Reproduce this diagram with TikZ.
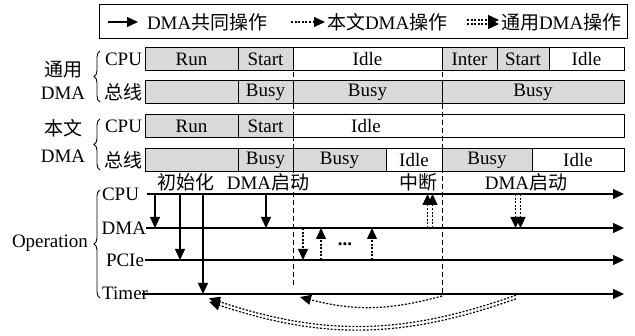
\documentclass[tikz,border=0pt]{standalone}
\usepackage{fontspec}
\setmainfont{Liberation Serif}
\newfontfamily\cjk{Noto Sans CJK SC}
\usepackage{tikz}
\usetikzlibrary{arrows.meta,positioning,decorations.pathreplacing}

\begin{document}
\begin{tikzpicture}[x=1pt,y=-1pt, >={Triangle[length=11pt,width=10pt]},
  font=\fontsize{19}{21}\selectfont,
  every node/.style={inner sep=0pt,outer sep=0pt},
  seg/.style={draw,line width=1pt,minimum height=23pt,anchor=west},
  busy/.style={seg,fill=black!15},
  free/.style={seg,fill=white},
  axis/.style={->,line width=1.2pt},
  common/.style={->,line width=1.2pt},
  own/.style={->,line width=1.2pt,dash pattern=on 2pt off 1.6pt},
  gen/.style={own},
  cut/.style={line width=1pt,dash pattern=on 5pt off 3pt},
  brace/.style={decorate,decoration={brace,amplitude=6pt},line width=0.9pt}]
  \useasboundingbox (0,0) rectangle (635,336);

  % legend
  \node[draw,line width=1pt,minimum width=528pt,minimum height=34pt,anchor=north west] (legend) at (99,5) {};
  \coordinate (k1a) at (108,22);
  \coordinate (k1b) at (138,22);
  \coordinate (k2a) at (291,22);
  \coordinate (k2b) at (325,22);
  \coordinate (k3a) at (467,22);
  \coordinate (k3b) at (499,22);
  \draw[common] (k1a) -- (k1b);
  \draw[own] (k2a) -- (k2b);
  \draw[gen,transform canvas={yshift=2pt}] (k3a) -- (k3b);
  \draw[gen,transform canvas={yshift=-2pt}] (k3a) -- (k3b);
  \node[anchor=west] (k1) at (147,22) {DMA{\cjk 共同操作}};
  \node[anchor=west] (k2) at (327,22) {{\cjk 本文}DMA{\cjk 操作}};
  \node[anchor=west] (k3) at (501,22) {{\cjk 通用}DMA{\cjk 操作}};

  % generic DMA
  \node (gName) at (63,70) {\cjk 通用};
  \node (gName2) at (63,93) {DMA};
  \draw[brace] (100,102) -- (100,51);
  \node[anchor=east] (gCPU) at (142,59.5) {CPU};
  \node[anchor=east] (gBus) at (142,92.5) {\cjk 总线};

  \node[busy,minimum width=93pt] (gcRun) at (145,59.5) {Run};
  \node[busy,minimum width=55pt,right=0pt of gcRun] (gcStart) {Start};
  \node[free,minimum width=149pt,right=0pt of gcStart] (gcIdle) {Idle};
  \node[busy,minimum width=55pt,right=0pt of gcIdle] (gcInter) {Inter};
  \node[busy,minimum width=52pt,right=0pt of gcInter] (gcStart2) {Start};
  \node[free,minimum width=75pt,right=0pt of gcStart2] (gcIdle2) {Idle};

  \node[busy,minimum width=93pt] (gbBlank) at (145,92.5) {};
  \node[busy,minimum width=55pt,right=0pt of gbBlank] (gbBusy1) {Busy};
  \node[busy,minimum width=149pt,right=0pt of gbBusy1] (gbBusy2) {Busy};
  \node[busy,minimum width=182pt,right=0pt of gbBusy2] (gbBusy3) {Busy};

  % our DMA
  \node (oName) at (63,128) {\cjk 本文};
  \node (oName2) at (63,156) {DMA};
  \draw[brace] (100,170) -- (100,119);
  \node[anchor=east] (oCPU) at (142,126.5) {CPU};
  \node[anchor=east] (oBus) at (142,160.5) {\cjk 总线};

  \node[busy,minimum width=93pt] (ocRun) at (145,126.5) {Run};
  \node[busy,minimum width=55pt,right=0pt of ocRun] (ocStart) {Start};
  \node[free,minimum width=331pt,right=0pt of ocStart] (ocIdle) {};
  \node (ocIdleTxt) at (366,126.5) {Idle};

  \node[busy,minimum width=93pt] (obBlank) at (145,160.5) {};
  \node[busy,minimum width=55pt,right=0pt of obBlank] (obBusy1) {Busy};
  \node[busy,minimum width=93pt,right=0pt of obBusy1] (obBusy2) {Busy};
  \node[free,minimum width=56pt,right=0pt of obBusy2] (obIdle1) {Idle};
  \node[busy,minimum width=90pt,right=0pt of obIdle1] (obBusy3) {Busy};
  \node[free,minimum width=92pt,right=0pt of obBusy3] (obIdle2) {Idle};

  % operation lines
  \node (opName) at (50,243) {Operation};
  \draw[brace] (100,298) -- (100,190);
  \node[anchor=east] (tCPU) at (139,194) {CPU};
  \node[anchor=east] (tDMA) at (146,228) {DMA};
  \node[anchor=east] (tPCIe) at (144,260) {PCIe};
  \node[anchor=east] (tTimer) at (148,293) {Timer};
  \coordinate (cpuEnd) at (624,194);
  \coordinate (dmaEnd) at (624,228);
  \coordinate (pcieEnd) at (624,260);
  \coordinate (timerEnd) at (624,294);
  \draw[axis] ([xshift=8pt]tCPU.east) -- (cpuEnd);
  \draw[axis] (tDMA.east) -- (dmaEnd);
  \draw[axis] ([xshift=1pt]tPCIe.east) -- (pcieEnd);
  \draw[axis] ([xshift=-6pt,yshift=-1pt]tTimer.east) -- (timerEnd);

  \node (init) at (186,182) {\cjk 初始化};
  \node (start1) at (268,182) {DMA{\cjk 启动}};
  \node (intr) at (418,182) {\cjk 中断};
  \node (start2) at (526,182) {DMA{\cjk 启动}};

  % cut lines
  \coordinate (cut1top) at (293,48);
  \coordinate (cut1bot) at (293,288);
  \coordinate (cut2top) at (442,48);
  \coordinate (cut2bot) at (442,296);
  \draw[cut] (cut1top) -- (cut1bot);
  \draw[cut] (cut2top) -- (cut2bot);

  \draw[common] (155,0 |- cpuEnd) -- (155,0 |- dmaEnd);
  \draw[common] (180,0 |- cpuEnd) -- (180,0 |- pcieEnd);
  \draw[common] (203,0 |- cpuEnd) -- (203,0 |- timerEnd);
  \draw[common] (266,0 |- cpuEnd) -- (266,0 |- dmaEnd);

  \draw[own] (303,0 |- dmaEnd) -- (303,0 |- pcieEnd);
  \draw[own] (321,0 |- pcieEnd) -- (321,0 |- dmaEnd);
  \draw[own] (372,0 |- pcieEnd) -- (372,0 |- dmaEnd);
  \node (more) at (345,244) {\textbf{...}};

  \draw[gen,transform canvas={xshift=-2.5pt}] (430,0 |- dmaEnd) -- (430,0 |- cpuEnd);
  \draw[gen,transform canvas={xshift=2.5pt}] (430,0 |- dmaEnd) -- (430,0 |- cpuEnd);
  \draw[gen,transform canvas={xshift=-2.5pt}] (518,0 |- cpuEnd) -- (518,0 |- dmaEnd);
  \draw[gen,transform canvas={xshift=2.5pt}] (518,0 |- cpuEnd) -- (518,0 |- dmaEnd);

  \coordinate (back1) at (300,297);
  \draw[own] (cut2bot) to[bend left=15] (back1);
  \coordinate (gsrc) at (516,297);
  \coordinate (gdst) at (209,300);
  \draw[gen,transform canvas={yshift=1.8pt}] (gsrc) to[bend left=19] (gdst);
  \draw[gen,transform canvas={yshift=-1.8pt}] (gsrc) to[bend left=19] (gdst);
\end{tikzpicture}
\end{document}
